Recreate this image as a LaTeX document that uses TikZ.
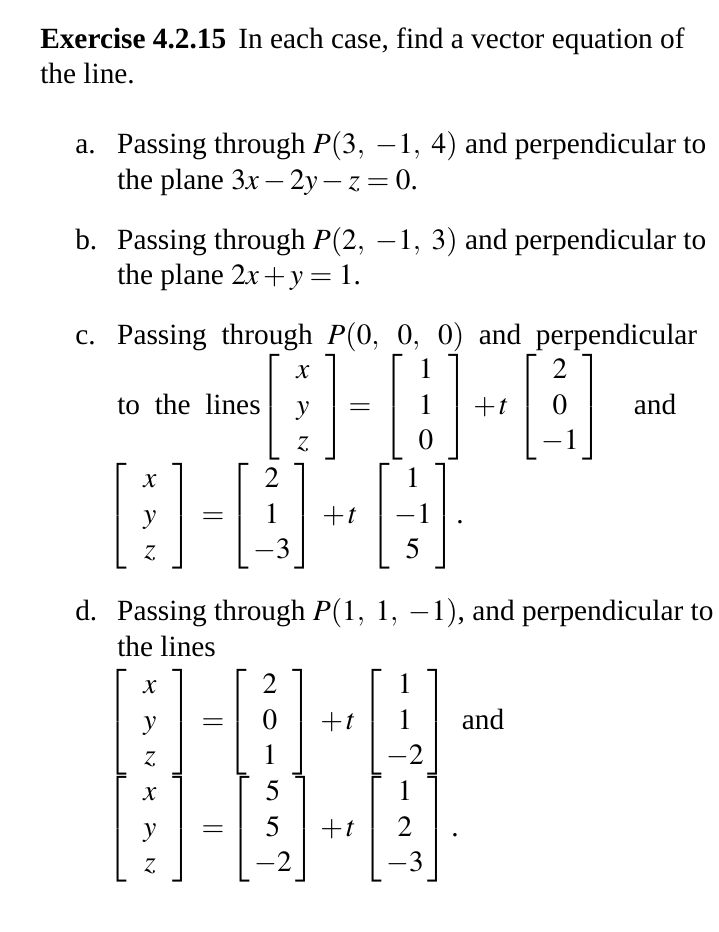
\documentclass[tikz,border=0pt]{standalone}
\usepackage{mathptmx}
\usepackage{fontspec}
\setmainfont{Liberation Serif}
\newcommand{\mymat}[3]{\left[\renewcommand{\arraystretch}{1.03}\begin{array}{@{}c@{}}\makebox[34pt]{$#1$}\\\makebox[34pt]{$#2$}\\\makebox[34pt]{$#3$}\end{array}\right]}
\newcommand{\lbl}[1]{\makebox[31.5pt][l]{#1}}
\begin{document}
\begin{tikzpicture}[x=0.75pt,y=-0.75pt,
  txt/.style={anchor=base west,inner sep=0pt,font=\fontsize{22}{26}\selectfont},
  mt/.style={anchor=center,inner sep=0pt,font=\fontsize{22}{26}\selectfont},
  op/.style={anchor=base,inner sep=0pt,font=\fontsize{22}{26}\selectfont}]
\useasboundingbox (0,0) rectangle (718,932);
\node[txt] (t1) at (40,48) {\textbf{Exercise 4.2.15}\hspace{9pt}In each case, find a vector equation of};
\node[txt] (t2) at (40,83) {the line.};
\node[txt] (a1) at (75,153) {\lbl{a.}Passing through $P(3,\ -1,\ 4)$ and perpendicular to};
\node[txt] (a2) at (117,189) {the plane $3x-2y-z=0$.};
\node[txt] (b1) at (75,249) {\lbl{b.}Passing through $P(2,\ -1,\ 3)$ and perpendicular to};
\node[txt] (b2) at (117,284) {the plane $2x+y=1$.};
\node[txt] (c1) at (75,344) {\lbl{c.}Passing\ \ through\ \ $P(0,\ \ 0,\ \ 0)$\ \ and\ \ perpendicular};
\node[txt] (c2) at (117,414) {to\ \ the\ \ lines};
\node[mt] (m1) at (303,407) {$\mymat{x}{y}{z}$};
\node[op] (e1) at (360,414) {$=$};
\node[mt] (m2) at (426,407) {$\mymat{1}{1}{0}$};
\node[op] (p1) at (491,414) {$+\,t$};
\node[mt] (m3) at (560,407) {$\mymat{2}{0}{-1}$};
\node[op] (and1) at (655,414) {and};
\node[mt] (m4) at (150,516) {$\mymat{x}{y}{z}$};
\node[op] (e2) at (213,523) {$=$};
\node[mt] (m5) at (272,516) {$\mymat{2}{1}{-3}$};
\node[op] (p2) at (340,523) {$+\,t$};
\node[mt] (m6) at (413,516) {$\mymat{1}{-1}{5}$};
\node[op] (d0) at (460,523) {.};
\node[txt] (d1) at (75,620) {\lbl{d.}Passing through $P(1,\ 1,\ -1)$, and perpendicular to};
\node[txt] (d2) at (117,656) {the lines};
\node[mt] (m7) at (150,722) {$\mymat{x}{y}{z}$};
\node[op] (e3) at (213,729) {$=$};
\node[mt] (m8) at (270,722) {$\mymat{2}{0}{1}$};
\node[op] (p3) at (338,729) {$+\,t$};
\node[mt] (m9) at (405,722) {$\mymat{1}{1}{-2}$};
\node[op] (and2) at (483,729) {and};
\node[mt] (m10) at (150,829) {$\mymat{x}{y}{z}$};
\node[op] (e4) at (213,836) {$=$};
\node[mt] (m11) at (273,829) {$\mymat{5}{5}{-2}$};
\node[op] (p4) at (338,836) {$+\,t$};
\node[mt] (m12) at (405,829) {$\mymat{1}{2}{-3}$};
\node[op] (d3) at (455,836) {.};
\end{tikzpicture}
\end{document}
